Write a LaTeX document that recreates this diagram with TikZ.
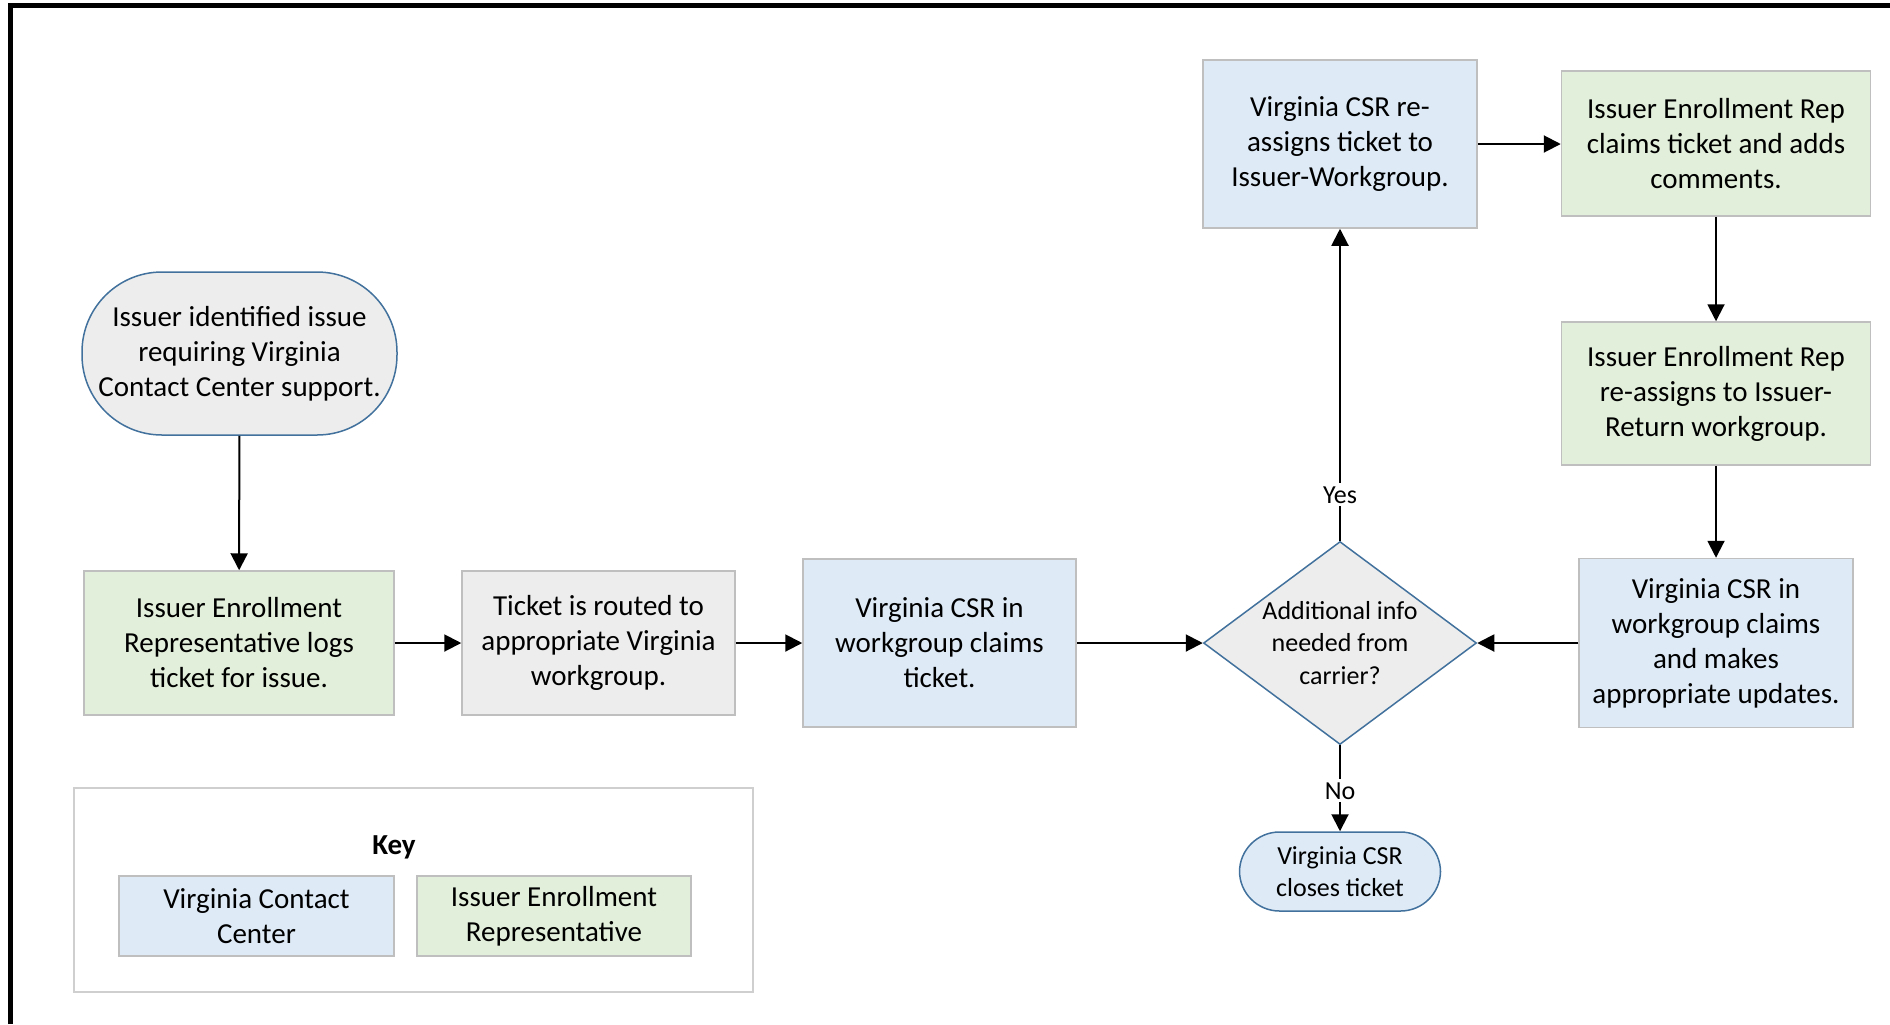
\documentclass[tikz,border=0pt]{standalone}
\usepackage{fontspec}
\setmainfont{Carlito}
\usetikzlibrary{arrows.meta,shapes.geometric}

\definecolor{vablue}{HTML}{DEEBF7}
\definecolor{iegreen}{HTML}{E2EFDA}
\definecolor{lightgrey}{HTML}{EDEDED}
\definecolor{boxline}{HTML}{BFBFBF}
\definecolor{shapeline}{HTML}{41719C}

\tikzstyle{box}=[rectangle, draw=boxline, line width=0.75pt, align=center, inner sep=0pt, font=\fontsize{14.5}{17.5}\selectfont]
\tikzstyle{vcc}=[box, fill=vablue]
\tikzstyle{ier}=[box, fill=iegreen]
\tikzstyle{routing}=[box, fill=lightgrey]
\tikzstyle{terminal}=[rectangle, rounded corners=20pt, draw=shapeline, line width=0.75pt, align=center, inner sep=0pt]
\tikzstyle{decision}=[diamond, aspect=1.35, draw=shapeline, line width=0.75pt, fill=lightgrey, align=center, inner sep=-3pt, font=\fontsize{13}{16.3}\selectfont]
\tikzstyle{flow}=[-{Triangle[length=8.5pt,width=8.5pt]}, line width=1pt]
\tikzstyle{answer}=[fill=white, inner sep=1.5pt, font=\fontsize{13}{16}\selectfont]

\begin{document}
\begin{tikzpicture}[x=0.5pt, y=-0.5pt]
        \useasboundingbox (0, 0) rectangle (1890, 1024);
        \draw[line width=2.5pt] (10.5, 1024) -- (10.5, 5) -- (1890, 5);

        \node[terminal, fill=lightgrey, minimum width=157.5pt, minimum height=81.5pt, rounded corners=40pt, font=\fontsize{14.5}{17.5}\selectfont](start) at (239.5, 353.5) {Issuer identified issue\\requiring Virginia\\Contact Center support.};

        \node[ier, minimum width=155pt, minimum height=72pt](log) at (239, 643) {Issuer Enrollment\\Representative logs\\ticket for issue.};
        \node[routing, minimum width=136.5pt, minimum height=72pt](route) at (598.5, 643) {Ticket is routed to\\appropriate Virginia\\workgroup.};
        \node[vcc, minimum width=136.5pt, minimum height=84pt](claim) at (939.5, 643) {Virginia CSR in\\workgroup claims\\ticket.};
        \node[decision, minimum width=136.5pt, minimum height=101.5pt](info) at (1340, 643) {Additional info\\needed from\\carrier?};
        \node[vcc, minimum width=137pt, minimum height=84.5pt](updates) at (1716, 643) {Virginia CSR in\\workgroup claims\\and makes\\appropriate updates.};

        \node[vcc, minimum width=137pt, minimum height=84pt](reassign) at (1340, 144) {Virginia CSR re-\\assigns ticket to\\Issuer-Workgroup.};
        \node[ier, minimum width=154.5pt, minimum height=72.5pt](comments) at (1716, 143.5) {Issuer Enrollment Rep\\claims ticket and adds\\comments.};
        \node[ier, minimum width=154.5pt, minimum height=71.5pt](returned) at (1716, 393.5) {Issuer Enrollment Rep\\re-assigns to Issuer-\\Return workgroup.};

        \node[terminal, fill=vablue, minimum width=100.5pt, minimum height=39.5pt, font=\fontsize{13}{16.3}\selectfont](close) at (1340, 871.5) {Virginia CSR\\closes ticket};

        % key
        \node[draw=boxline!75, line width=1pt, minimum width=339.5pt, minimum height=102pt, inner sep=0pt](key) at (413.5, 890) {};
        \node[font=\fontsize{14.5}{17.5}\selectfont\bfseries](keytitle) at (394, 847) {Key};
        \node[vcc, minimum width=137.5pt, minimum height=40pt](keyvcc) at (256.5, 916) {Virginia Contact\\Center};
        \node[ier, minimum width=137pt, minimum height=40pt](keyier) at (554, 916) {Issuer Enrollment\\Representative};

        \begin{scope}[every path/.style={flow}]
            \draw (start) -- (log);
            \draw (log) -- (route);
            \draw (route) -- (claim);
            \draw (claim) -- (info);
            \draw (updates) -- (info);

            \draw (info) -- node[answer, pos=0.147] {Yes} (reassign);
            \draw (reassign) -- (comments.west |- reassign);
            \draw (comments) -- (returned);
            \draw (returned) -- (updates);
            \draw (info) -- node[answer, pos=0.53] {No} (close);
        \end{scope}
    \end{tikzpicture}
\end{document}
